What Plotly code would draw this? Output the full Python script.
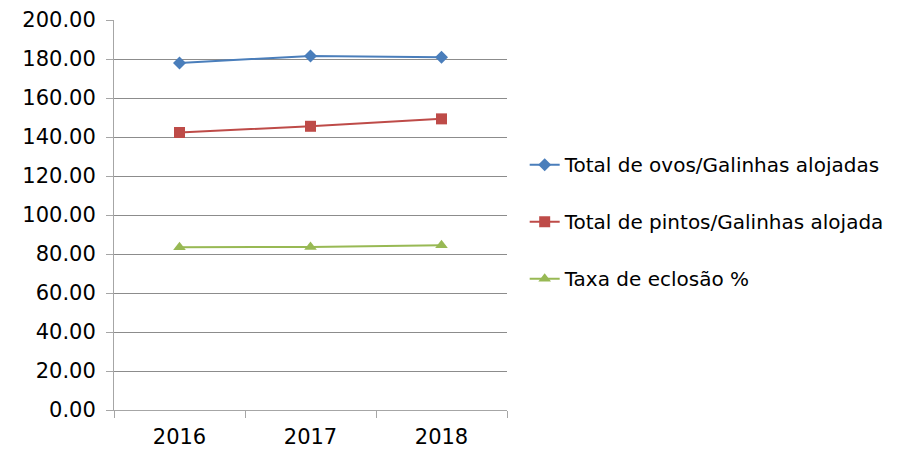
import plotly.graph_objects as go

years = ["2016", "2017", "2018"]
ovos = [178.0, 181.6, 180.9]
pintos = [142.3, 145.5, 149.3]
eclosao = [83.5, 83.6, 84.5]

names = ["Total de ovos/Galinhas alojadas", "Total de pintos/Galinhas alojada", "Taxa de eclosão %"]
colors = ["#4A7EBB", "#BE4B48", "#98B954"]
symbols = ["diamond", "square", "triangle-up"]
sizes = [10, 11, 11]

fig = go.Figure()
for i, vals in enumerate([ovos, pintos, eclosao]):
    fig.add_trace(go.Scatter(
        x=years, y=vals, name=names[i], mode="lines+markers",
        line=dict(color=colors[i], width=2),
        marker=dict(symbol=symbols[i], size=sizes[i], color=colors[i]),
        legendgroup=str(i),
    ))

font_family = "DejaVu Sans, Noto Sans, sans-serif"
fig.update_layout(
    width=905, height=450,
    margin=dict(l=106, r=406, t=12, b=48, autoexpand=False),
    paper_bgcolor="white", plot_bgcolor="white",
    font=dict(family=font_family, size=21, color="#000000"),
    showlegend=True,
    legend=dict(x=1.045, y=0.483, xanchor="left", yanchor="middle",
                traceorder="grouped", tracegroupgap=28,
                font=dict(size=20), itemwidth=30, bgcolor="rgba(0,0,0,0)"),
    xaxis=dict(type="category", range=[-0.5, 2.5], showgrid=False, showline=True,
               linecolor="#A6A6A6", linewidth=1,
               ticks="outside", tickson="boundaries", ticklen=7, tickcolor="#A6A6A6",
               ticklabelstandoff=8, tickfont=dict(size=21), zeroline=False),
    yaxis=dict(range=[0, 200], dtick=20, tickformat=".2f", showgrid=True, gridcolor="#8C8C8C",
               gridwidth=1, showline=True, linecolor="#A6A6A6", linewidth=1,
               ticks="outside", ticklen=7, tickcolor="#A6A6A6", ticklabelstandoff=6,
               tickfont=dict(size=21), zeroline=False),
)
fig.write_html("out.html")
